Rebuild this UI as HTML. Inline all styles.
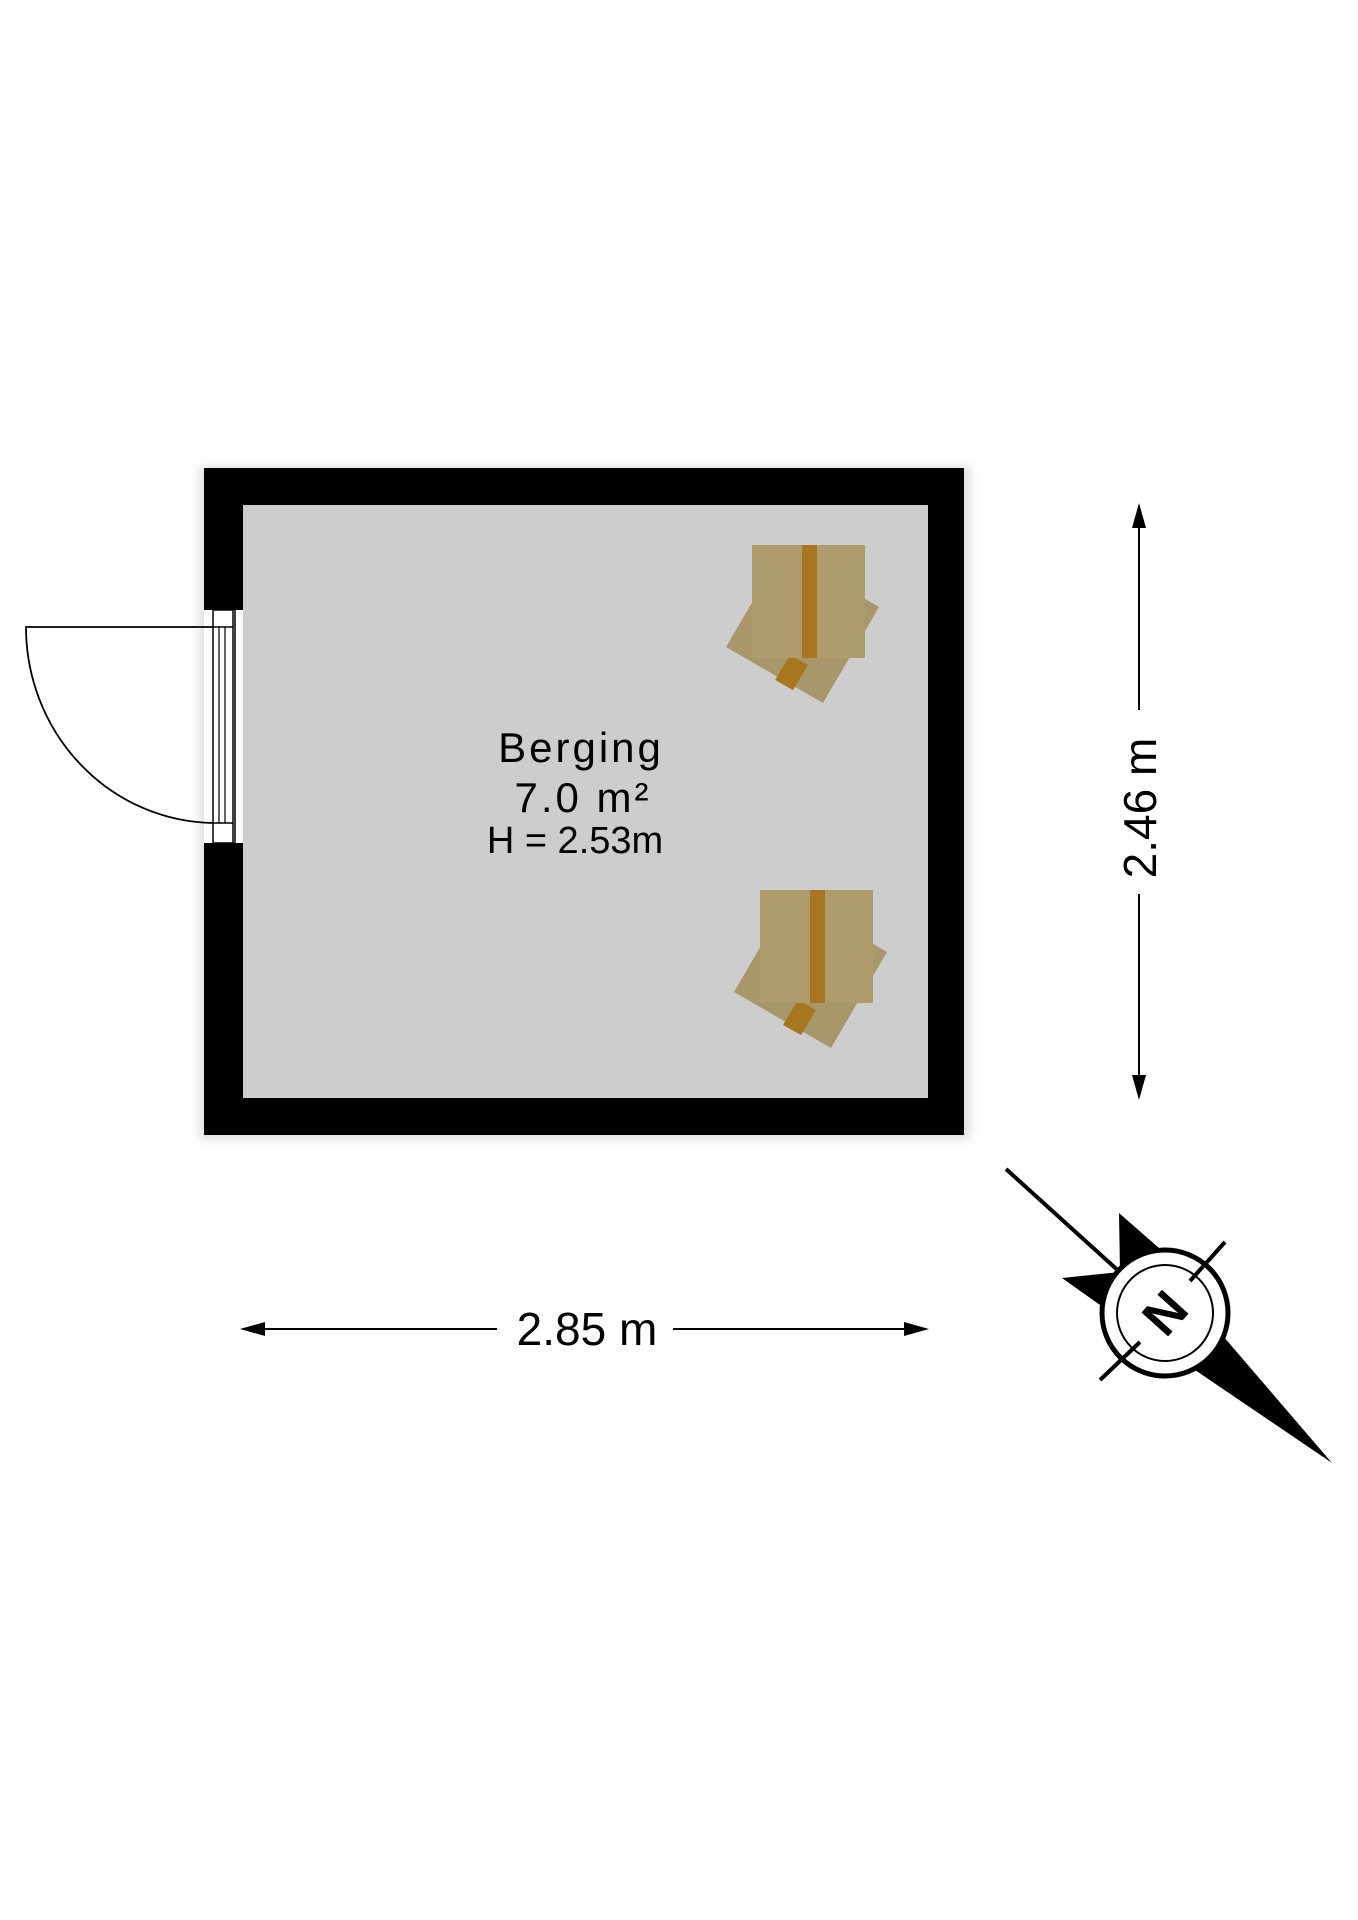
<!DOCTYPE html>
<html><head><meta charset="utf-8"><style>
html,body{margin:0;padding:0;background:#fff;}
svg{display:block;}
text{font-family:"Liberation Sans",sans-serif;fill:#000;}
</style></head><body>
<svg width="1358" height="1920" viewBox="0 0 1358 1920" xmlns="http://www.w3.org/2000/svg">
<defs>
<filter id="sh" x="-10%" y="-10%" width="120%" height="120%"><feGaussianBlur stdDeviation="5"/></filter>
<g id="box">
  <polygon points="726,647 782,551 879,607 823,703" fill="#a8976a"/>
  <polygon points="775,680 790,655 808,665 793,690" fill="#a7761f"/>
  <rect x="752" y="545" width="113" height="113" fill="#ae9c6c"/>
  <rect x="802" y="545" width="15" height="113" fill="#a7761f"/>
</g>
</defs>
<rect x="200" y="466" width="770" height="673" fill="#ddd" filter="url(#sh)"/>
<rect x="204" y="468" width="760" height="667" fill="#000"/>
<rect x="243" y="505" width="685" height="593" fill="#cdcdcd"/>
<!-- door opening -->
<rect x="204" y="610" width="39" height="233" fill="#fff"/>
<rect x="213" y="610" width="20" height="233" fill="#fff" stroke="#000" stroke-width="1.5"/>
<line x1="213" y1="627" x2="233" y2="627" stroke="#000" stroke-width="1.5"/>
<line x1="213" y1="823" x2="233" y2="823" stroke="#000" stroke-width="1.5"/>
<line x1="219" y1="627" x2="219" y2="823" stroke="#000" stroke-width="1.2"/>
<line x1="225" y1="627" x2="225" y2="823" stroke="#000" stroke-width="1.2"/>
<line x1="235" y1="610" x2="235" y2="843" stroke="#000" stroke-width="1.5"/>
<path d="M213,627 L26,627 A190,196 0 0 0 213,823" fill="none" stroke="#000" stroke-width="1.8"/>
<!-- boxes -->
<use href="#box"/>
<use href="#box" transform="translate(8,345)"/>
<!-- labels -->
<text x="581" y="762" font-size="42" text-anchor="middle" letter-spacing="3">Berging</text>
<text x="583" y="812" font-size="42" text-anchor="middle" letter-spacing="3">7.0 m²</text>
<text x="575" y="853" font-size="38" text-anchor="middle">H = 2.53m</text>
<!-- vertical dimension -->
<line x1="1139" y1="511" x2="1139" y2="710" stroke="#000" stroke-width="2"/>
<line x1="1139" y1="894" x2="1139" y2="1092" stroke="#000" stroke-width="2"/>
<polygon points="1139,503 1132,528 1146,528" fill="#000"/>
<polygon points="1139,1100 1132,1075 1146,1075" fill="#000"/>
<text transform="translate(1156,808) rotate(-90)" font-size="46" text-anchor="middle">2.46 m</text>
<!-- horizontal dimension -->
<line x1="248" y1="1329" x2="497" y2="1329" stroke="#000" stroke-width="2"/>
<line x1="673" y1="1329" x2="921" y2="1329" stroke="#000" stroke-width="2"/>
<polygon points="240,1329 265,1322 265,1336" fill="#000"/>
<polygon points="929,1329 904,1322 904,1336" fill="#000"/>
<text x="587" y="1345" font-size="46" text-anchor="middle">2.85 m</text>
<!-- compass -->
<line x1="1006" y1="1169" x2="1165" y2="1313" stroke="#000" stroke-width="4"/>
<polygon points="1119,1213 1175,1262 1165,1313 1100,1305 1062,1278 1120,1272" fill="#000"/>
<polygon points="1223,1336 1332,1463 1195,1370 1165,1313" fill="#000"/>
<circle cx="1165" cy="1313" r="63" fill="#fff" stroke="#000" stroke-width="5"/>
<circle cx="1165" cy="1313" r="48" fill="none" stroke="#000" stroke-width="2"/>
<line x1="1225" y1="1242" x2="1190" y2="1281" stroke="#000" stroke-width="4"/>
<line x1="1140" y1="1342" x2="1100" y2="1380" stroke="#000" stroke-width="4"/>
<text transform="translate(1165,1313) rotate(-48)" font-size="52" font-weight="bold" text-anchor="middle" dy="18">N</text>
</svg>
</body></html>
